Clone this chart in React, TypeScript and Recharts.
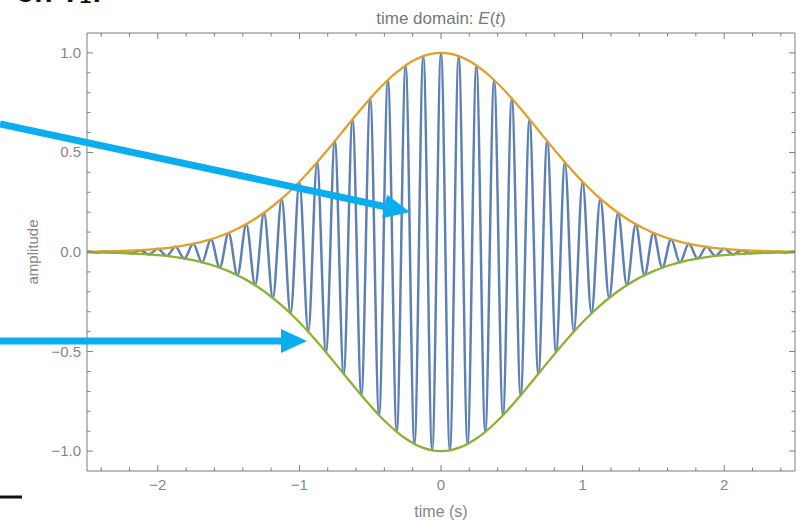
import React from 'react';
import { LineChart, Line, XAxis, YAxis, Label } from 'recharts';

// time samples (s): carrier extrema every 1/16 s
const TIME = [
  -2.5, -2.4375, -2.375, -2.3125, -2.25, -2.1875, -2.125, -2.0625,
  -2, -1.9375, -1.875, -1.8125, -1.75, -1.6875, -1.625, -1.5625,
  -1.5, -1.4375, -1.375, -1.3125, -1.25, -1.1875, -1.125, -1.0625,
  -1, -0.9375, -0.875, -0.8125, -0.75, -0.6875, -0.625, -0.5625,
  -0.5, -0.4375, -0.375, -0.3125, -0.25, -0.1875, -0.125, -0.0625,
  0,
  0.0625, 0.125, 0.1875, 0.25, 0.3125, 0.375, 0.4375, 0.5,
  0.5625, 0.625, 0.6875, 0.75, 0.8125, 0.875, 0.9375, 1,
  1.0625, 1.125, 1.1875, 1.25, 1.3125, 1.375, 1.4375, 1.5,
  1.5625, 1.625, 1.6875, 1.75, 1.8125, 1.875, 1.9375, 2,
  2.0625, 2.125, 2.1875, 2.25, 2.3125, 2.375, 2.4375, 2.5,
];

// E(t), read at its peaks and troughs
const FIELD = [
  0.002, -0.002, 0.003, -0.004, 0.005, -0.007, 0.009, -0.012,
  0.016, -0.020, 0.026, -0.033, 0.041, -0.052, 0.064, -0.079,
  0.096, -0.117, 0.140, -0.167, 0.197, -0.231, 0.268, -0.309,
  0.353, -0.401, 0.451, -0.503, 0.557, -0.612, 0.666, -0.720,
  0.771, -0.820, 0.864, -0.903, 0.937, -0.964, 0.984, -0.996,
  1.000,
  -0.996, 0.984, -0.964, 0.937, -0.903, 0.864, -0.820, 0.771,
  -0.720, 0.666, -0.612, 0.557, -0.503, 0.451, -0.401, 0.353,
  -0.309, 0.268, -0.231, 0.197, -0.167, 0.140, -0.117, 0.096,
  -0.079, 0.064, -0.052, 0.041, -0.033, 0.026, -0.020, 0.016,
  -0.012, 0.009, -0.007, 0.005, -0.004, 0.003, -0.002, 0.002,
];

// upper envelope (the lower one is its mirror)
const ENVELOPE = [
  0.002, 0.002, 0.003, 0.004, 0.005, 0.007, 0.009, 0.012,
  0.016, 0.020, 0.026, 0.033, 0.041, 0.052, 0.064, 0.079,
  0.096, 0.117, 0.140, 0.167, 0.197, 0.231, 0.268, 0.309,
  0.353, 0.401, 0.451, 0.503, 0.557, 0.612, 0.666, 0.720,
  0.771, 0.820, 0.864, 0.903, 0.937, 0.964, 0.984, 0.996,
  1.000,
  0.996, 0.984, 0.964, 0.937, 0.903, 0.864, 0.820, 0.771,
  0.720, 0.666, 0.612, 0.557, 0.503, 0.451, 0.401, 0.353,
  0.309, 0.268, 0.231, 0.197, 0.167, 0.140, 0.117, 0.096,
  0.079, 0.064, 0.052, 0.041, 0.033, 0.026, 0.020, 0.016,
  0.012, 0.009, 0.007, 0.005, 0.004, 0.003, 0.002, 0.002,
];

const X_TICKS = [
  -2.4, -2.2, -2, -1.8, -1.6, -1.4, -1.2, -1, -0.8, -0.6, -0.4, -0.2, 0,
  0.2, 0.4, 0.6, 0.8, 1, 1.2, 1.4, 1.6, 1.8, 2, 2.2, 2.4,
];
const Y_TICKS = [
  -1, -0.9, -0.8, -0.7, -0.6, -0.5, -0.4, -0.3, -0.2, -0.1, 0,
  0.1, 0.2, 0.3, 0.4, 0.5, 0.6, 0.7, 0.8, 0.9, 1,
];

const DATA = TIME.map((t, i) => ({
  t,
  field: FIELD[i],
  upper: ENVELOPE[i],
  lower: -ENVELOPE[i],
}));

const FRAME = '#7d7d7d';
const TEXT = '#868686';
const FONT = '"Liberation Sans", Arial, sans-serif';

const fmt = (v: number, digits: number) => (v < 0 ? '\u2212' : '') + Math.abs(v).toFixed(digits);
const isWhole = (v: number) => Math.abs(v - Math.round(v)) < 1e-6;
const isHalf = (v: number) => Math.abs(v * 2 - Math.round(v * 2)) < 1e-6;

function BottomTick({ x, y, payload }: any) {
  const major = isWhole(payload.value);
  return (
    <g>
      <line x1={x} y1={y} x2={x} y2={y - (major ? 6 : 3.5)} stroke={FRAME} />
      {major && (
        <text x={x} y={y + 19} textAnchor="middle" fill={TEXT} fontSize={15} fontFamily={FONT}>
          {fmt(payload.value, 0)}
        </text>
      )}
    </g>
  );
}

function TopTick({ x, y, payload }: any) {
  const major = isWhole(payload.value);
  return <line x1={x} y1={y} x2={x} y2={y + (major ? 6 : 3.5)} stroke={FRAME} />;
}

function LeftTick({ x, y, payload }: any) {
  const major = isHalf(payload.value);
  return (
    <g>
      <line x1={x} y1={y} x2={x + (major ? 6 : 3.5)} y2={y} stroke={FRAME} />
      {major && (
        <text x={x - 6} y={y + 5} textAnchor="end" fill={TEXT} fontSize={15} fontFamily={FONT}>
          {fmt(payload.value, 1)}
        </text>
      )}
    </g>
  );
}

function RightTick({ x, y, payload }: any) {
  const major = isHalf(payload.value);
  return <line x1={x} y1={y} x2={x - (major ? 6 : 3.5)} y2={y} stroke={FRAME} />;
}

function Arrow({ x1, y1, x2, y2 }: { x1: number; y1: number; x2: number; y2: number }) {
  const len = Math.hypot(x2 - x1, y2 - y1);
  const ux = (x2 - x1) / len;
  const uy = (y2 - y1) / len;
  const head = 26;
  const half = 12;
  const bx = x2 - ux * head;
  const by = y2 - uy * head;
  const pts = `${x2},${y2} ${bx - uy * half},${by + ux * half} ${bx + uy * half},${by - ux * half}`;
  return (
    <g>
      <line x1={x1} y1={y1} x2={bx + ux} y2={by + uy} stroke="#0aaeef" strokeWidth={7} />
      <polygon points={pts} fill="#0aaeef" />
    </g>
  );
}

export default function App() {
  return (
    <div style={{ position: 'absolute', left: 0, top: 0, width: 808, height: 522, background: '#fff', overflow: 'hidden' }}>
      <div style={{ position: 'absolute', left: 16, top: -25, fontFamily: FONT, fontWeight: 'bold', fontSize: 30, color: '#111' }}>
        on T₁:
      </div>
      <LineChart width={808} height={522} data={DATA} margin={{ top: 0, right: 0, bottom: 0, left: 0 }}>
        <XAxis
          dataKey="t"
          type="number"
          domain={[-2.5, 2.5]}
          ticks={X_TICKS}
          interval={0}
          allowDataOverflow
          height={51}
          tickSize={0}
          tickMargin={0}
          tick={<BottomTick />}
          stroke={FRAME}
        >
          <Label
            content={({ viewBox }: any) => (
              <text x={viewBox.x + viewBox.width / 2} y={viewBox.y + viewBox.height - 5} textAnchor="middle" fill={TEXT} fontSize={16} fontFamily={FONT}>
                time (s)
              </text>
            )}
          />
        </XAxis>
        <XAxis
          xAxisId="top"
          orientation="top"
          dataKey="t"
          type="number"
          domain={[-2.5, 2.5]}
          ticks={X_TICKS}
          interval={0}
          allowDataOverflow
          height={33}
          tickSize={0}
          tickMargin={0}
          tick={<TopTick />}
          stroke={FRAME}
        >
          <Label
            content={({ viewBox }: any) => (
              <text x={viewBox.x + viewBox.width / 2} y={viewBox.y + viewBox.height - 9} textAnchor="middle" fill="#777" fontSize={17} fontFamily={FONT}>
                time domain: <tspan fontStyle="italic">E</tspan>(<tspan fontStyle="italic">t</tspan>)
              </text>
            )}
          />
        </XAxis>
        <YAxis
          type="number"
          domain={[-1.1, 1.1]}
          ticks={Y_TICKS}
          interval={0}
          allowDataOverflow
          width={87}
          tickSize={0}
          tickMargin={0}
          tick={<LeftTick />}
          stroke={FRAME}
        >
          <Label
            content={({ viewBox }: any) => {
              const cx = 38;
              const cy = viewBox.y + viewBox.height / 2;
              return (
                <text x={cx} y={cy} transform={`rotate(-90 ${cx} ${cy})`} textAnchor="middle" fill={TEXT} fontSize={15} fontFamily={FONT}>
                  amplitude
                </text>
              );
            }}
          />
        </YAxis>
        <YAxis
          yAxisId="right"
          orientation="right"
          type="number"
          domain={[-1.1, 1.1]}
          ticks={Y_TICKS}
          interval={0}
          allowDataOverflow
          width={13}
          tickSize={0}
          tickMargin={0}
          tick={<RightTick />}
          stroke={FRAME}
        />
        <Line type="monotone" dataKey="field" stroke="#5e81b5" strokeWidth={2.5} dot={false} isAnimationActive={false} />
        <Line type="monotone" dataKey="upper" stroke="#e0a02c" strokeWidth={2.3} dot={false} isAnimationActive={false} />
        <Line type="monotone" dataKey="lower" stroke="#8fb032" strokeWidth={2.3} dot={false} isAnimationActive={false} />
      </LineChart>
      <svg width={808} height={522} style={{ position: 'absolute', left: 0, top: 0, pointerEvents: 'none' }}>
        <Arrow x1={0} y1={124} x2={410} y2={212} />
        <Arrow x1={0} y1={341} x2={307} y2={341} />
        <line x1={0} y1={497} x2={22} y2={497} stroke="#111" strokeWidth={3} />
      </svg>
    </div>
  );
}
